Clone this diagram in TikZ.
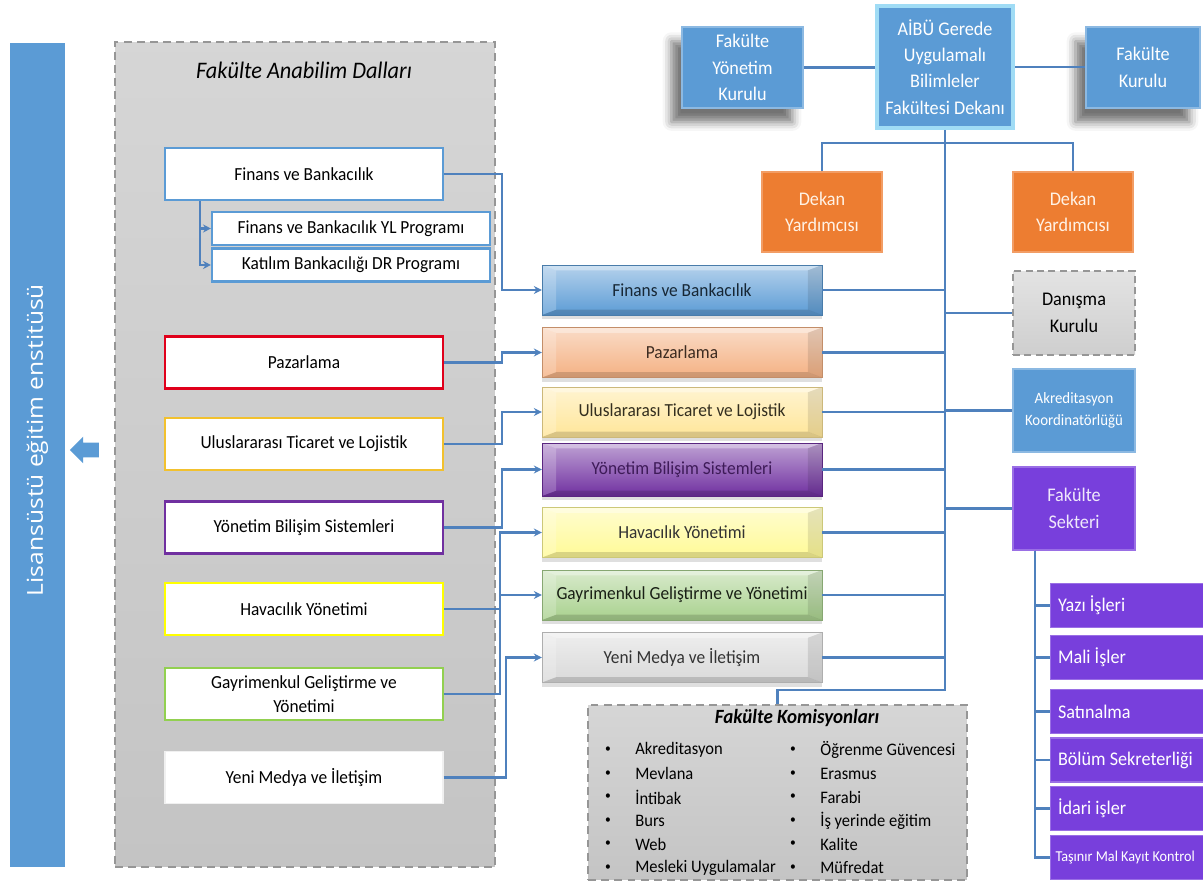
\documentclass[tikz,border=0pt]{standalone}
\usepackage{fontspec}
\setmainfont{Carlito}[FakeStretch=0.94]
\newfontfamily\sidefont{Open Sans}[FakeStretch=1.12]
\usepackage{tikz}
\usetikzlibrary{arrows.meta, shapes.arrows, shadows, shadows.blur}
\definecolor{linkblue}{RGB}{79,129,189}
\definecolor{boxblue}{RGB}{91,155,213}
\definecolor{deanrim}{RGB}{160,220,245}
\definecolor{dekanorange}{RGB}{237,125,49}
\definecolor{groupgray}{RGB}{196,196,196}
\definecolor{dashgray}{RGB}{150,150,150}
\definecolor{secviolet}{RGB}{120,63,220}
\definecolor{pazpeach}{RGB}{244,177,131}
\definecolor{ulusyellow}{RGB}{255,230,153}
\definecolor{yonpurple}{RGB}{112,48,160}
\definecolor{havyellow}{RGB}{255,250,150}
\definecolor{gaygreen}{RGB}{169,209,142}
\definecolor{yenigray}{RGB}{217,217,217}
\definecolor{pazred}{RGB}{224,0,27}
\definecolor{ulusgold}{RGB}{242,193,46}
\definecolor{havrim}{RGB}{255,255,0}
\definecolor{gayrim}{RGB}{146,208,80}
\newcommand{\boxfont}{\fontsize{10.5pt}{14pt}\selectfont}
\newcommand{\topfont}{\fontsize{11pt}{15pt}\selectfont}
\tikzset{
    conn/.style={
        draw=linkblue,
        line width=1.3pt
    },
    connarrow/.style={
        conn,
        -{Stealth[length=4.5pt,width=4.5pt]}
    },
    groupbox/.style={
        rectangle,
        draw=dashgray,
        line width=1.1pt,
        dash pattern=on 4.5pt off 3pt,
        top color=groupgray!70!white,
        bottom color=groupgray,
        inner sep=0pt
    },
    leftbox/.style={
        rectangle,
        draw=#1,
        line width=1.6pt,
        fill=white,
        minimum width=5.56cm,
        minimum height=1.04cm,
        align=center,
        inner sep=1pt,
        font=\boxfont
    },
    progbox/.style={
        leftbox=boxblue,
        line width=1.2pt,
        minimum height=0.66cm
    },
    midbox/.style={
        rectangle,
        minimum width=5.6cm,
        minimum height=1cm,
        top color=#1!45!white,
        bottom color=#1,
        draw=#1!80!black,
        line width=0.3pt,
        font=\boxfont,
        drop shadow={opacity=0.25, shadow xshift=0pt, shadow yshift=-2.5pt},
        path picture={
            \path (path picture bounding box.north west) coordinate (bnw) ++(8pt,-3pt) coordinate (inw);
            \path (path picture bounding box.north east) coordinate (bne) ++(-8pt,-3pt) coordinate (ine);
            \path (path picture bounding box.south west) coordinate (bsw) ++(8pt,3pt) coordinate (isw);
            \path (path picture bounding box.south east) coordinate (bse) ++(-8pt,3pt) coordinate (ise);
            \fill[white, opacity=0.35] (bnw) -- (bne) -- (ine) -- (inw) -- cycle;
            \fill[white, opacity=0.2] (bnw) -- (bsw) -- (isw) -- (inw) -- cycle;
            \fill[black, opacity=0.1] (bne) -- (bse) -- (ise) -- (ine) -- cycle;
            \fill[black, opacity=0.15] (bsw) -- (bse) -- (ise) -- (isw) -- cycle;
        }
    },
    topbox/.style={
        rectangle,
        fill=boxblue,
        draw=boxblue!70!white,
        line width=0.8pt,
        text=white,
        align=center,
        inner sep=1pt,
        font=\topfont
    },
    shadowed/.style={
        blur shadow={shadow xshift=-6pt, shadow yshift=-8pt, shadow blur radius=5pt, shadow opacity=55}
    },
    deanbox/.style={
        topbox,
        draw=deanrim,
        line width=2.2pt,
        minimum width=2.72cm,
        minimum height=2.44cm
    },
    dekanbox/.style={
        rectangle,
        fill=dekanorange,
        draw=dekanorange!75!white,
        line width=0.8pt,
        text=orange!10!white,
        align=center,
        minimum width=2.4cm,
        minimum height=1.6cm,
        font=\topfont
    },
    advisorbox/.style={
        rectangle,
        draw=dashgray,
        line width=1.1pt,
        dash pattern=on 4pt off 2.5pt,
        top color=gray!22,
        bottom color=gray!38,
        align=center,
        minimum width=2.44cm,
        minimum height=1.68cm,
        font=\topfont
    },
    secbox/.style={
        rectangle,
        fill=secviolet,
        draw=secviolet!75!white,
        line width=0.8pt,
        text=secviolet!12!white,
        align=center,
        minimum width=2.44cm,
        minimum height=1.66cm,
        font=\topfont
    },
    subbox/.style={
        rectangle,
        fill=secviolet,
        draw=secviolet!75!white,
        line width=0.6pt,
        text=white,
        anchor=west,
        align=flush left,
        text width=3.9cm,
        inner xsep=0.15cm,
        minimum height=0.88cm,
        font=\topfont
    },
    sidebar/.style={
        rectangle,
        fill=boxblue,
        rotate=90,
        minimum width=16.48cm,
        minimum height=1.1cm,
        text=white,
        font=\sidefont\fontsize{12.5pt}{14pt}\selectfont
    },
    backarrow/.style={
        single arrow,
        shape border rotate=180,
        fill=boxblue,
        minimum height=0.58cm,
        single arrow head extend=0.12cm,
        inner sep=0pt
    },
    item/.style={
        anchor=west,
        inner sep=0pt,
        font=\fontsize{10pt}{12pt}\selectfont
    },
    dot/.style={
        inner sep=0pt,
        font=\scriptsize
    }
}

\begin{document}
\begin{tikzpicture}[x=0.02cm, y=-0.02cm]
\useasboundingbox (0,0) rectangle (1203,881);

% Graduate school bar
\node[sidebar] (enst) at (37.5,455) {\hspace*{0.6cm}Lisansüstü eğitim enstitüsü};
\node[backarrow] (toenst) at (88,450) {\rule{0pt}{0.28cm}};

% Departments group
\node[groupbox, minimum width=7.6cm, minimum height=16.5cm] (anabilim) at (305,454.5) {};
\node[font=\itshape\fontsize{13.5pt}{16pt}\selectfont] (anabilimtitle) at (304,70) {Fakülte Anabilim Dalları};

\node[leftbox=boxblue, line width=1.2pt] (lfin) at (304,174) {Finans ve Bankacılık};
\node[progbox] (yl) at (351,228.5) {Finans ve Bankacılık YL Programı};
\node[progbox] (dr) at (351,265) {Katılım Bankacılığı DR Programı};
\node[leftbox=pazred] (lpaz) at (304,362.5) {Pazarlama};
\node[leftbox=ulusgold] (lulus) at (304,444) {Uluslararası Ticaret ve Lojistik};
\node[leftbox=yonpurple] (lyon) at (304,527.5) {Yönetim Bilişim Sistemleri};
\node[leftbox=havrim] (lhav) at (304,609) {Havacılık Yönetimi};
\node[leftbox=gayrim] (lgay) at (304,694) {Gayrimenkul Geliştirme ve\\Yönetimi};
\node[leftbox=gray!12, line width=0.8pt] (lyeni) at (304,777.5) {Yeni Medya ve İletişim};

% Programmes
\coordinate (finjoint) at (200,0);
\draw[connarrow] (finjoint |- lfin.south) |- (yl.west);
\draw[connarrow] (finjoint |- lfin.south) |- (dr.west);

% Middle column
\node[midbox=boxblue, text=boxblue!25!black] (mfin) at (682,290) {Finans ve Bankacılık};
\node[midbox=pazpeach, text=pazpeach!25!black] (mpaz) at (682,352.5) {Pazarlama};
\node[midbox=ulusyellow, text=ulusyellow!20!black] (mulus) at (682,412) {Uluslararası Ticaret ve Lojistik};
\node[midbox=yonpurple, text=yonpurple!55!black, minimum height=1.06cm] (myon) at (682,469.5) {Yönetim Bilişim Sistemleri};
\node[midbox=havyellow, text=black!80] (mhav) at (682,532.5) {Havacılık Yönetimi};
\node[midbox=gaygreen, text=gaygreen!15!black] (mgay) at (682,595) {Gayrimenkul Geliştirme ve Yönetimi};
\node[midbox=yenigray, text=black!80] (myeni) at (682,657.5) {Yeni Medya ve İletişim};

\coordinate (jointa) at (502,0);
\coordinate (jointb) at (500,0);
\coordinate (jointc) at (506,0);
\draw[connarrow] (lfin.east) -| (jointa |- mfin.west) -- (mfin.west);
\draw[connarrow] (lpaz.east) -| (jointa |- mpaz.west) -- (mpaz.west);
\draw[connarrow] (lulus.east) -| (jointa |- mulus.west) -- (mulus.west);
\draw[connarrow] (lyon.east) -| (jointa |- myon.west) -- (myon.west);
\draw[connarrow] (lhav.east) -| (jointb |- mhav.west) -- (mhav.west);
\draw[connarrow] (lgay.east) -| (jointb |- mgay.west) -- (mgay.west);
\draw[connarrow] (lyeni.east) -| (jointc |- myeni.west) -- (myeni.west);

% Dean and boards
\node[topbox, shadowed, minimum width=2.42cm, minimum height=1.62cm] (fyk) at (742.5,67.5) {Fakülte\\Yönetim\\Kurulu};
\node[deanbox] (dean) at (945,67) {AİBÜ Gerede\\Uygulamalı\\Bilimleler\\Fakültesi Dekanı};
\node[topbox, shadowed, minimum width=2.28cm, minimum height=1.62cm] (fk) at (1143,67.5) {Fakülte\\Kurulu};
\draw[conn] (fyk.east) -- (fyk.east -| dean.west);
\draw[conn] (dean.east) -- (dean.east -| fk.west);

\node[dekanbox] (dy1) at (822,212) {Dekan\\Yardımcısı};
\node[dekanbox] (dy2) at (1073,212) {Dekan\\Yardımcısı};
\coordinate (dekbar) at (945,143);
\draw[conn] (dy1.north) |- (dekbar) -| (dy2.north);

% Right column
\node[advisorbox] (danisma) at (1074,313) {Danışma\\Kurulu};
\node[topbox, minimum width=2.44cm, minimum height=1.66cm, font=\fontsize{9pt}{12.5pt}\selectfont] (akred) at (1074,410.5) {Akreditasyon\\Koordinatörlüğü};
\node[secbox] (sekter) at (1074,508.5) {Fakülte\\Sekteri};

% Commissions
\node[groupbox, minimum width=7.58cm, minimum height=3.5cm] (komisyon) at (777.5,792.5) {};
\node[font=\bfseries\itshape\fontsize{11.5pt}{13pt}\selectfont] (komtitle) at (797,718) {Fakülte Komisyonları};
\foreach \txt [count=\i] in {Akreditasyon, Mevlana, İntibak, Burs, Web, Mesleki Uygulamalar} {
    \node[item] (kl\i) at (635,726.5+23.5*\i) {\txt};
    \node[dot] (kbl\i) at (608,726.5+23.5*\i) {\textbullet};
}
\foreach \txt [count=\i] in {Öğrenme Güvencesi, Erasmus, Farabi, İş yerinde eğitim, Kalite, Müfredat} {
    \node[item] (kr\i) at (820,726.5+23.5*\i) {\txt};
    \node[dot] (kbr\i) at (793,726.5+23.5*\i) {\textbullet};
}

% Trunk
\coordinate (trunkend) at (945,690);
\draw[conn] (dean.south) -- (trunkend) -| (komisyon.north);
\foreach \n in {mfin,mpaz,mulus,myon,mhav,mgay,myeni} {
    \draw[conn] (\n.east) -- (\n.east -| dean.south);
}
\foreach \n in {danisma,akred,sekter} {
    \draw[conn] (\n.west -| dean.south) -- (\n.west);
}

% Secretary units
\foreach \n/\y/\txt in {yazi/605.5/Yazı İşleri, mali/657.5/Mali İşler, satin/711.5/Satınalma, bolum/760/Bölüm Sekreterliği, idari/808.5/İdari işler} {
    \node[subbox] (\n) at (1050,\y) {\txt};
}
\node[subbox, inner xsep=0.1cm, font=\fontsize{8.6pt}{10pt}\selectfont] (tasinir) at (1050,857.5) {Taşınır Mal Kayıt Kontrol};
\coordinate (secx) at (1035,0);
\foreach \n in {yazi,mali,satin,bolum,idari,tasinir} {
    \draw[conn] (secx |- sekter.south) |- (\n.west);
}

\end{tikzpicture}
\end{document}
